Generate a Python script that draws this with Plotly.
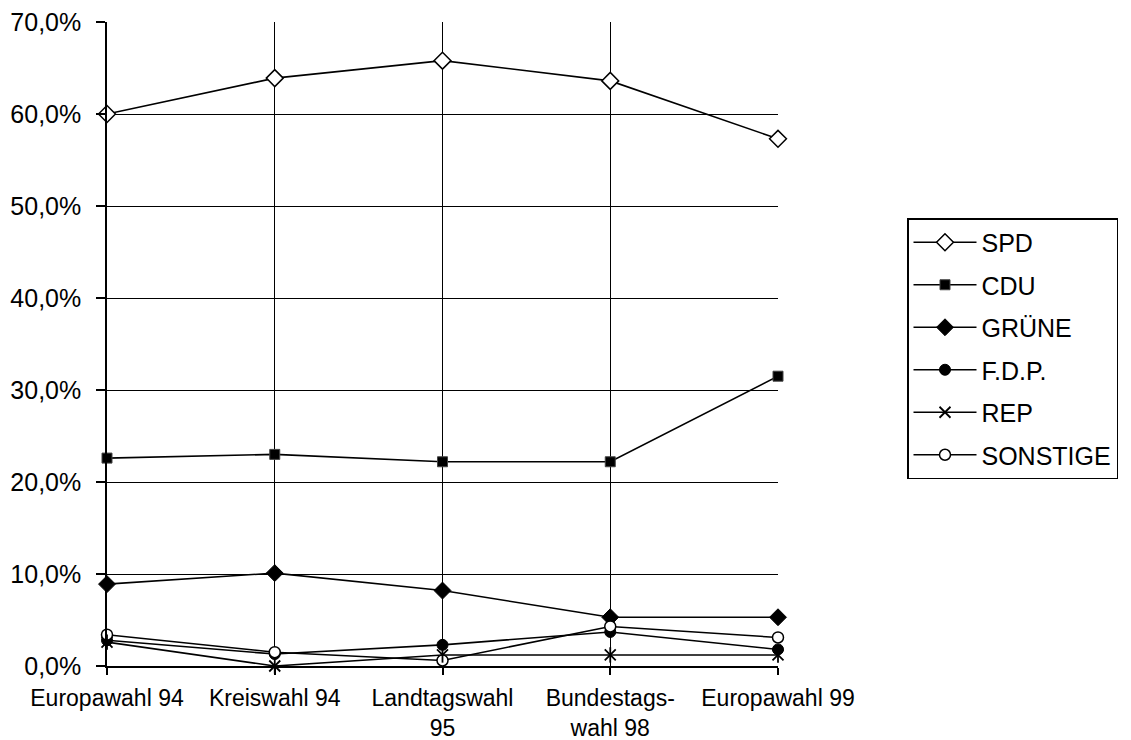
import plotly.graph_objects as go

categories = ["Europawahl 94", "Kreiswahl 94", "Landtagswahl<br>95", "Bundestags-<br>wahl 98", "Europawahl 99"]
spd = [60.0, 63.9, 65.8, 63.6, 57.3]
cdu = [22.6, 23.0, 22.2, 22.2, 31.5]
gruene = [8.9, 10.1, 8.2, 5.3, 5.3]
fdp = [2.8, 1.3, 2.3, 3.7, 1.8]
rep = [2.6, 0.0, 1.2, 1.2, 1.2]
sonstige = [3.4, 1.5, 0.6, 4.3, 3.1]
y_tickvals = [0, 10, 20, 30, 40, 50, 60, 70]
y_ticktext = ["0,0%", "10,0%", "20,0%", "30,0%", "40,0%", "50,0%", "60,0%", "70,0%"]

FONT = "Arial, Liberation Sans, sans-serif"
x_idx = list(range(len(categories)))

series = [
    ("SPD", spd, dict(symbol="diamond", size=13, color="white", line=dict(color="black", width=1.5))),
    ("CDU", cdu, dict(symbol="square", size=10, color="black", line=dict(color="#444", width=1))),
    ("GRÜNE", gruene, dict(symbol="diamond", size=13, color="black", line=dict(color="black", width=1))),
    ("F.D.P.", fdp, dict(symbol="circle", size=11, color="black", line=dict(color="black", width=1))),
    ("REP", rep, dict(symbol="x-thin-open", size=11, color="black", line=dict(color="black", width=1.8))),
    ("SONSTIGE", sonstige, dict(symbol="circle", size=11, color="white", line=dict(color="black", width=1.5))),
]

fig = go.Figure()
for name, vals, mk in series:
    fig.add_trace(go.Scatter(
        x=x_idx, y=vals, name=name, mode="lines+markers",
        line=dict(color="black", width=1.6), marker=mk,
        legendgroup=name, cliponaxis=False,
    ))
# vertical stroke of the REP star marker
fig.add_trace(go.Scatter(
    x=x_idx, y=rep, mode="markers", showlegend=False, hoverinfo="skip",
    marker=dict(symbol="line-ns-open", size=11, color="black", line=dict(color="black", width=1.8)),
    cliponaxis=False,
))

fig.update_layout(
    width=1131, height=740,
    margin=dict(l=107, r=353, t=22, b=74, autoexpand=False),
    paper_bgcolor="white", plot_bgcolor="white",
    font=dict(family=FONT, color="black"),
    showlegend=True,
    legend=dict(
        xref="container", yref="container",
        x=907 / 1131, y=1 - 218 / 740, xanchor="left", yanchor="top",
        bordercolor="black", borderwidth=1.5, bgcolor="white",
        font=dict(family=FONT, size=25, color="black"),
        traceorder="grouped", tracegroupgap=7, itemwidth=63,
    ),
)
fig.update_xaxes(
    range=[0, 4], tickvals=x_idx, ticktext=categories,
    showgrid=True, gridcolor="black", gridwidth=1,
    showline=True, linecolor="black", linewidth=1.5,
    ticks="outside", ticklen=7, tickcolor="black", tickwidth=1.5,
    tickfont=dict(family=FONT, size=23, color="black"),
    ticklabelstandoff=4,
    zeroline=False, fixedrange=True, automargin=False,
)
fig.update_yaxes(
    range=[0, 70], tickvals=y_tickvals, ticktext=y_ticktext,
    showgrid=True, gridcolor="black", gridwidth=1,
    showline=True, linecolor="black", linewidth=1.5,
    ticks="outside", ticklen=9, tickcolor="black", tickwidth=1.5,
    tickfont=dict(family=FONT, size=25, color="black"),
    ticklabelstandoff=10,
    zeroline=False, fixedrange=True, automargin=False,
)

fig.write_html(
    "out.html",
    config={"displayModeBar": False},
    post_script="document.body.style.margin='0';document.body.style.overflow='hidden';",
)
